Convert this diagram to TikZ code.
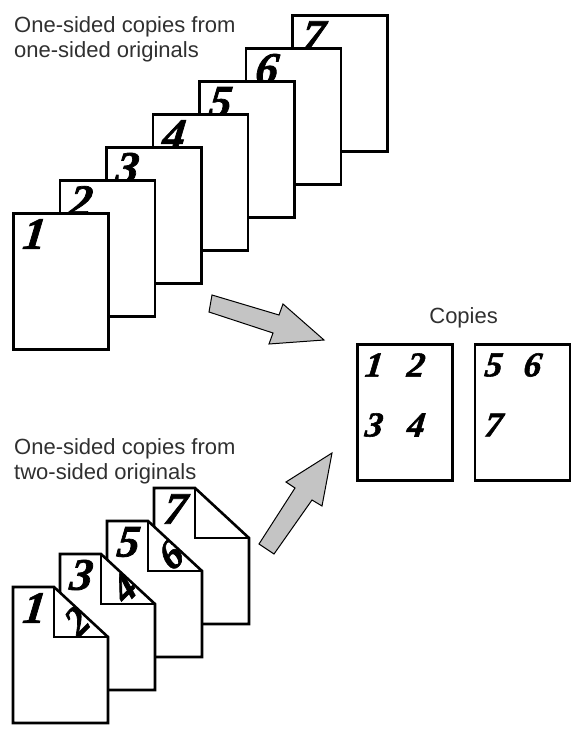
\documentclass[tikz,border=0pt]{standalone}
\usepackage{fontspec}
\setmainfont{Liberation Sans}
\newfontfamily\handfont{Liberation Serif}[BoldItalicFeatures={FakeBold=1.6, FakeSlant=0.12}]
\usetikzlibrary{positioning,calc}
\definecolor{ArrowGray}{HTML}{C4C4C4}
\definecolor{TextGray}{HTML}{303030}
\tikzset{
  sheet/.style={draw, line width=2.6pt, fill=white, minimum width=95pt, minimum height=136pt, inner sep=0pt, anchor=north west},
  foldsheet/.style={draw, line width=2.6pt, fill=white, line join=miter},
  foldline/.style={draw, line width=1.6pt},
  pagenum/.style={font=\handfont\bfseries\itshape\fontsize{45}{45}\selectfont, inner sep=0pt},
  backnum/.style={font=\handfont\bfseries\itshape\fontsize{40}{40}\selectfont, inner sep=0pt, rotate=45},
  copynum/.style={font=\handfont\bfseries\itshape\fontsize{35}{35}\selectfont, inner sep=0pt},
  caption/.style={font=\fontsize{22}{25}\selectfont, text=TextGray, align=left, inner sep=0pt},
  bigarr/.style={draw, line width=1pt, fill=ArrowGray, line join=miter}
}
\begin{document}
\begin{tikzpicture}[x=1pt, y=-1pt]
\useasboundingbox (0,0) rectangle (579,735);
\node[caption, anchor=north west] (toptitle) at (14,16) {One-sided copies from\\one-sided originals};
\foreach \i in {7,6,...,1}{
  \node[sheet] (top\i) at ({12+46.5*(\i-1)},{212-33*(\i-1)}) {};
  \node[pagenum] (topnum\i) at ([shift={(21,22)}]top\i.north west) {\i};
}
\node[caption, anchor=north west] (bottitle) at (14,438) {One-sided copies from\\two-sided originals};
\foreach \k/\f/\b in {3/7/,2/5/6,1/3/4,0/1/2}{
  \begin{scope}[shift={({13+47*\k},{587-33*\k})}]
    \draw[foldsheet] (0,0) -- (41,0) -- (95,50) -- (95,136) -- (0,136) -- cycle;
    \node[pagenum] (front\k) at (20,21) {\f};
    \begin{scope}
      \clip (41,0) -- (95,50) -- (41,50) -- cycle;
      \node[backnum] (back\k) at (63,35) {\b};
    \end{scope}
    \draw[foldline] (41,0) -- (41,50) -- (95,50);
  \end{scope}
}
\node[sheet] (copyA) at (356,343) {};
\node[sheet, right=20pt of copyA] (copyB) {};
\node[caption, anchor=base] (copieslbl) at ($(copyA.north east)!0.5!(copyB.north west)+(0,-20)$) {Copies};
\foreach \n/\dx/\dy in {1/17/22,2/59/22,3/17/82,4/59/82}
  \node[copynum] (copynum\n) at ([shift={(\dx,\dy)}]copyA.north west) {\n};
\foreach \n/\dx/\dy in {5/19/22,6/58/22,7/19/82}
  \node[copynum] (copynum\n) at ([shift={(\dx,\dy)}]copyB.north west) {\n};
\draw[bigarr] (212,295) -- (279,315) -- (283,304) -- (324,340) -- (269,344) -- (273,333) -- (209,312) -- cycle;
\draw[bigarr] (332,453) -- (322,506) -- (312,500) -- (274,554) -- (259,544) -- (295,488) -- (286,482) -- cycle;
\end{tikzpicture}
\end{document}
